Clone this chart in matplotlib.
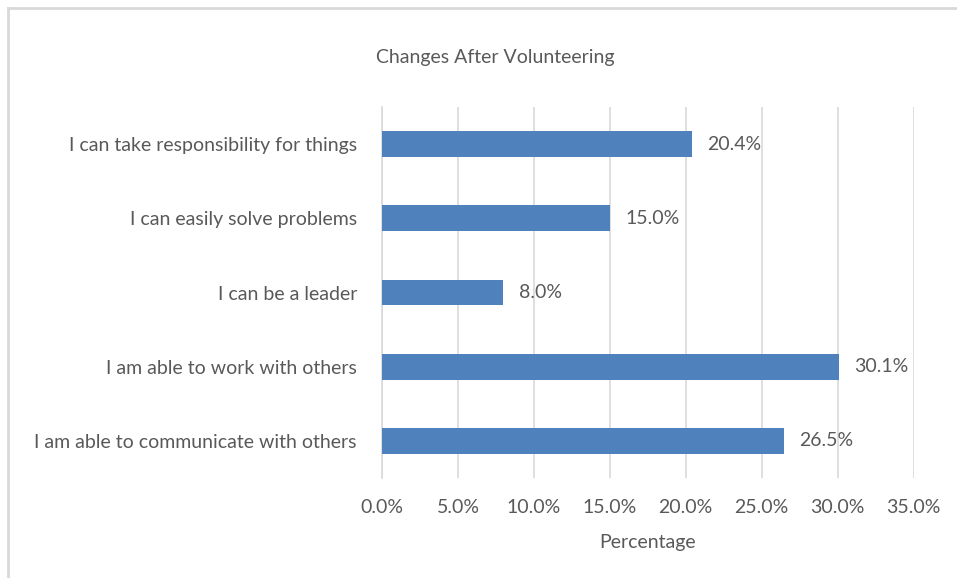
import matplotlib
matplotlib.use("Agg")
import matplotlib.pyplot as plt
from matplotlib.ticker import FuncFormatter
from matplotlib.lines import Line2D

categories = [
    "I am able to communicate with others",
    "I am able to work with others",
    "I can be a leader",
    "I can easily solve problems",
    "I can take responsibility for things",
]
values = [26.5, 30.1, 8.0, 15.0, 20.4]
xticks = [0, 5, 10, 15, 20, 25, 30, 35]

plt.rcParams['font.family'] = ['Lato', 'DejaVu Sans']
text_color = "#595959"
grid_color = "#D9D9D9"
bar_color = "#4F81BD"
fs = 14

W, H = 957, 578
fig = plt.figure(figsize=(W / 100, H / 100), dpi=100)
ax = fig.add_axes([382 / W, 1 - 478 / H, (913.5 - 382) / W, (478 - 107) / H])

y = list(range(len(categories)))
ax.barh(y, values, height=0.35, color=bar_color, zorder=3)
for yi, v in zip(y, values):
    ax.text(v + 1.0, yi, f"{v:.1f}%", va="center", ha="left",
            fontsize=fs, color=text_color)

ax.set_xlim(0, 35)
ax.set_ylim(-0.5, len(categories) - 0.5)
ax.set_xticks(xticks)
ax.xaxis.set_major_formatter(FuncFormatter(lambda x, p: f"{x:.1f}%"))
ax.set_yticks(y)
ax.set_yticklabels(categories)
ax.tick_params(axis="both", length=0, labelsize=fs, colors=text_color)
ax.tick_params(axis="y", pad=18)
ax.tick_params(axis="x", pad=15)
ax.grid(axis="x", color=grid_color, linewidth=1.2, zorder=0)
for s in ["top", "right", "bottom"]:
    ax.spines[s].set_visible(False)
ax.spines["left"].set_color(grid_color)
ax.spines["left"].set_linewidth(1.2)

ax.set_xlabel("Percentage", fontsize=fs, color=text_color, labelpad=13)
fig.text(495 / W, 1 - 57 / H, "Changes After Volunteering", ha="center",
         va="center", fontsize=fs, color=text_color)

# outer chart border (left and top visible)
fig.add_artist(Line2D([8 / W, 8 / W], [0, 1 - 8 / H], transform=fig.transFigure,
                      color=grid_color, linewidth=2))
fig.add_artist(Line2D([8 / W, 1], [1 - 8 / H, 1 - 8 / H], transform=fig.transFigure,
                      color=grid_color, linewidth=2))

fig.savefig("out.png", dpi=100)
